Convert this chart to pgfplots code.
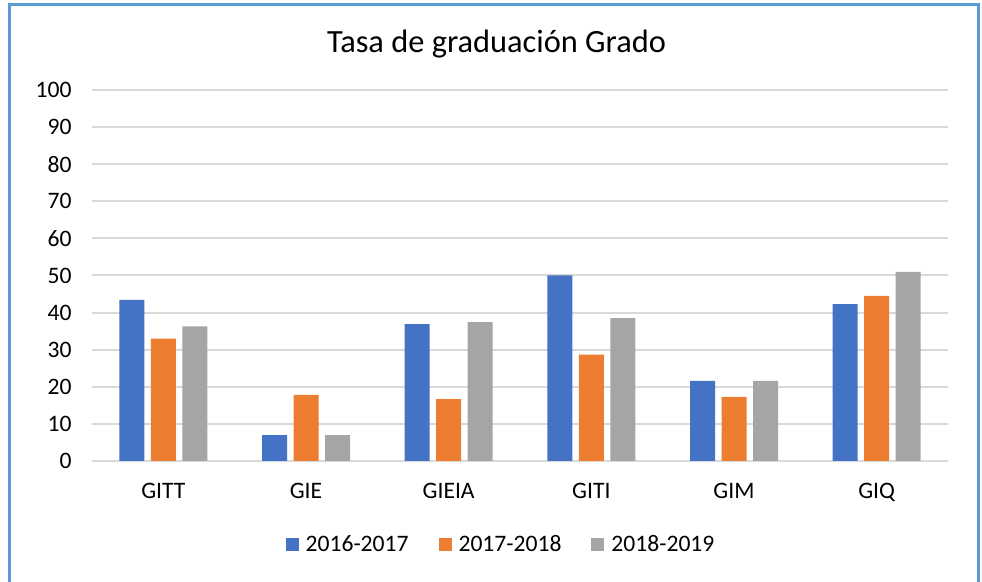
\documentclass[border=0pt]{standalone}
\usepackage{fontspec}
\setmainfont{Carlito}
\usepackage{pgfplots}
\pgfplotsset{compat=1.18}
\definecolor{cblue}{HTML}{4472C4}
\definecolor{corange}{HTML}{ED7D31}
\definecolor{cgray}{HTML}{A5A5A5}
\definecolor{cgrid}{HTML}{D9D9D9}
\definecolor{cframe}{HTML}{5B9BD5}
\begin{document}
\begin{tikzpicture}
\useasboundingbox (0,0) rectangle (491pt,291pt);
\fill[white] (0,0) rectangle (491pt,291pt);
\begin{axis}[
  at={(46pt,60.5pt)}, anchor=south west,
  width=428pt, height=185.5pt, scale only axis,
  ymin=0, ymax=100, ytick={0,10,...,100},
  xmin=-0.5, xmax=5.5, xtick={0,...,5},
  xticklabels={GITT,GIE,GIEIA,GITI,GIM,GIQ},
  ybar=3.25pt, bar width=12.5pt,
  ymajorgrids, grid style={cgrid, line width=1pt},
  axis line style={draw=none}, major tick length=0pt,
  /pgf/number format/assume math mode=true,
  ticklabel style={font=\fontsize{11.8}{14}\selectfont, inner sep=0pt},
  yticklabel style={anchor=east, xshift=-10pt},
  xticklabel style={anchor=north, yshift=-11pt},
  legend image code/.code={\fill[#1] (0pt,-3.25pt) rectangle (6.5pt,3.25pt);},
  legend style={at={(0.479,-0.226)}, anchor=center, draw=none,
    font=\fontsize{11.8}{14}\selectfont, legend columns=3,
    /tikz/every odd column/.append style={column sep=1.5pt},
    /tikz/every even column/.append style={column sep=13pt}},
]
\addplot[fill=cblue, draw=none] coordinates {(0,43.4) (1,7) (2,36.9) (3,50) (4,21.6) (5,42.3)};
\addplot[fill=corange, draw=none] coordinates {(0,33) (1,17.8) (2,16.7) (3,28.7) (4,17.3) (5,44.5)};
\addplot[fill=cgray, draw=none] coordinates {(0,36.3) (1,7) (2,37.4) (3,38.5) (4,21.6) (5,51)};
\legend{2016-2017,2017-2018,2018-2019}
\end{axis}
\node[anchor=base, font=\fontsize{16.2}{19}\selectfont, inner sep=0pt] at (248.25pt,264.5pt) {Tasa de graduación Grado};
\draw[cframe, line width=1.5pt] (4.5pt,-5pt) -- (4.5pt,288.5pt) -- (489pt,288.5pt) -- (489pt,-5pt);
\end{tikzpicture}
\end{document}
